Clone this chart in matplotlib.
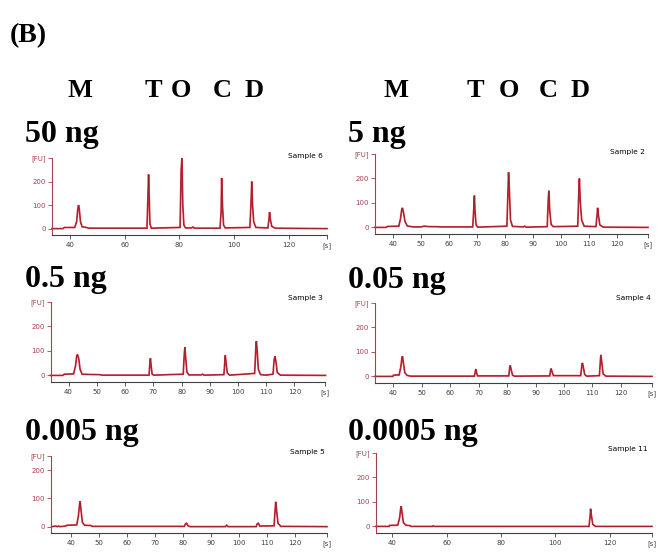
import matplotlib.pyplot as plt

# electropherogram traces: migration time [s] and fluorescence [FU]
t_50ng = [33.5, 37.5, 38, 41.8, 42.5, 42.9, 43.2, 43.5, 43.9, 44.5, 46, 47,
          68.2, 68.6, 68.8, 69.0, 69.3, 69.8, 80.3, 80.7, 81.0, 81.3, 81.7, 82.3,
          84.5, 85, 85.5, 94.9, 95.3, 95.5, 95.8, 96.2, 96.8, 105.8, 106.2, 106.5,
          106.8, 107.2, 108, 112.4, 112.8, 113.0, 113.3, 113.8, 115, 134]
fu_50ng = [0, 0, 5, 5, 30, 80, 100, 80, 30, 8, 5, 2,
           2, 150, 230, 140, 20, 2, 5, 250, 300, 100, 15, 3,
           3, 7, 2, 2, 70, 215, 100, 15, 3, 5, 100, 200,
           100, 30, 5, 3, 40, 70, 40, 10, 2, 0]

t_5ng = [33.5, 37.5, 38, 42, 42.6, 43.0, 43.3, 43.7, 44.2, 45, 47, 50, 51, 53, 55, 57,
         68.4, 68.8, 69.0, 69.2, 69.6, 70.2, 80.6, 81.0, 81.2, 81.5, 81.9, 82.6,
         86.5, 87, 87.5, 95.0, 95.4, 95.6, 95.9, 96.4, 97.2, 105.9, 106.3, 106.5,
         106.8, 107.3, 108.2, 112.4, 112.8, 113.0, 113.3, 113.8, 115, 131]
fu_5ng = [0, 0, 4, 5, 35, 70, 80, 60, 25, 6, 2, 2, 5, 3, 3, 2,
          2, 80, 130, 70, 10, 1, 5, 150, 225, 150, 30, 4,
          2, 5, 1, 3, 120, 150, 70, 12, 3, 5, 150, 200,
          110, 30, 5, 3, 50, 80, 50, 10, 1, 0]

t_05ng = [33.5, 38, 38.5, 41.8, 42.5, 42.9, 43.2, 43.6, 44.1, 44.8, 47, 51, 52,
          68.5, 68.8, 69.0, 69.2, 69.6, 70.2, 80.6, 81.0, 81.2, 81.5, 81.9, 82.6,
          87, 87.5, 88, 95.0, 95.3, 95.5, 95.8, 96.2, 97, 105.9, 106.3, 106.5,
          106.8, 107.2, 108, 110, 112.4, 112.8, 113.1, 113.4, 113.9, 115, 131]
fu_05ng = [0, 0, 5, 6, 40, 80, 85, 70, 25, 5, 4, 3, 1,
           1, 50, 70, 45, 5, 1, 5, 90, 115, 70, 15, 2,
           2, 5, 1, 3, 50, 82, 50, 10, 1, 8, 110, 140,
           100, 25, 3, 1, 5, 65, 78, 60, 12, 1, 0]

t_005ng = [33.5, 39.8, 40, 42.0, 42.6, 43.0, 43.2, 43.5, 44.0, 44.8, 46,
           68.5, 68.8, 69.0, 69.2, 69.6, 80.6, 80.9, 81.1, 81.4, 81.9, 82.6,
           95.0, 95.3, 95.5, 95.8, 96.3, 105.9, 106.3, 106.5, 106.8, 107.3, 108,
           112.5, 112.8, 113.0, 113.3, 113.8, 114.8, 131]
fu_005ng = [0, 0, 5, 6, 40, 78, 82, 55, 15, 4, 1,
            1, 20, 30, 18, 2, 2, 35, 45, 30, 5, 1,
            2, 25, 32, 20, 3, 3, 45, 55, 40, 8, 1,
            3, 60, 88, 60, 10, 1, 0]

t_0005ng = [33, 34.5, 35, 35.5, 36, 38, 38.5, 42, 42.6, 43.0, 43.2, 43.5, 44.0, 44.8,
            47, 47.5, 80.4, 80.8, 81.2, 81.7, 82.4, 95, 95.5, 96, 106, 106.4, 106.8,
            107.3, 112.4, 112.8, 113.0, 113.3, 113.8, 114.8, 131.3]
fu_0005ng = [0, 2, 0, 2, 0, 2, 5, 6, 40, 80, 90, 60, 15, 5,
             4, 1, 1, 10, 12, 3, 0, 0, 5, 0, 0, 10, 12,
             2, 3, 60, 88, 60, 12, 1, 0]

t_00005ng = [34, 38.8, 39, 42, 42.7, 43.1, 43.3, 43.6, 44.1, 45, 46.5, 47,
             54.8, 55, 55.5, 112.4, 112.8, 113.0, 113.3, 113.8, 114.8, 135.6]
fu_00005ng = [0, 0, 4, 5, 35, 75, 82, 55, 15, 5, 3, 0,
              0, 2, 0, 0, 40, 72, 45, 8, 0, 0]

amounts = ["50 ng", "5 ng", "0.5 ng", "0.05 ng", "0.005 ng", "0.0005 ng"]
samples = ["Sample 6", "Sample 2", "Sample 3", "Sample 4", "Sample 5", "Sample 11"]
traces = [(t_50ng, fu_50ng), (t_5ng, fu_5ng), (t_05ng, fu_05ng),
          (t_005ng, fu_005ng), (t_0005ng, fu_0005ng), (t_00005ng, fu_00005ng)]
x_ranges = [(33.5, 134), (33.5, 131), (33.8, 130.8), (33.5, 131), (32.8, 131.3), (34, 135.6)]
x_steps = [20, 10, 10, 10, 10, 20]
fu_top = [300, 300, 300, 300, 250, 300]
fu_ticks = [0, 100, 200]
lane_letters = ["M", "T", "O", "C", "D"]

W, H = 665, 556
RED = "#d42a3a"
AXRED = "#a8404c"
DARK = "#404040"

fig = plt.figure(figsize=(W / 100, H / 100), dpi=100)


def box(x0, y0, x1, y1):
    return [x0 / W, 1 - y1 / H, (x1 - x0) / W, (y1 - y0) / H]


# axes boxes in pixels: left, top, right, bottom
boxes = [(52, 158, 327, 235), (375, 154, 648, 234),
         (51, 302, 325, 382), (375, 303, 652, 383),
         (51, 456, 327, 533), (376, 453, 652, 533)]
title_pos = [(25, 142), (348, 142), (25, 287), (348, 288), (25, 440), (348, 440)]
sample_pos = [(323, 156), (645, 152), (323, 298), (651, 298), (325, 452), (648, 449)]

for i in range(6):
    ax = fig.add_axes(box(*boxes[i]))
    t, fu = traces[i]
    ax.plot(t, fu, color=RED, lw=1.25, clip_on=False, solid_joinstyle="miter")
    ax.plot(t, fu, color="#5b1a1a", lw=0.5, alpha=0.55, clip_on=False)

    lo, hi = x_ranges[i]
    ax.set_xlim(lo, hi)
    ax.set_ylim(-0.09 * fu_top[i], fu_top[i])

    start = (int(lo) // x_steps[i] + 1) * x_steps[i]
    xt = list(range(start, int(hi) - 3, x_steps[i]))
    ax.set_xticks(xt + [hi])
    ax.set_xticklabels([str(v) for v in xt] + ["[s]"])
    ax.set_yticks(fu_ticks + [fu_top[i]])
    ax.set_yticklabels([str(v) for v in fu_ticks] + ["[FU]"])

    for s in ["top", "right"]:
        ax.spines[s].set_visible(False)
    ax.spines["left"].set_color(AXRED)
    ax.spines["bottom"].set_color(DARK)
    ax.spines["left"].set_linewidth(0.8)
    ax.spines["bottom"].set_linewidth(0.8)
    ax.tick_params(axis="y", colors=AXRED, labelsize=5, length=3, width=0.6, pad=1.5)
    ax.tick_params(axis="x", colors=DARK, labelsize=5, length=3, width=0.6, pad=2)
    ax.set_facecolor("none")

    tx, ty = title_pos[i]
    fig.text(tx / W, 1 - ty / H, amounts[i], family="Liberation Serif",
             weight="bold", fontsize=23, va="baseline", ha="left")
    sx, sy = sample_pos[i]
    fig.text(sx / W, 1 - sy / H, samples[i], fontsize=5.3, ha="right", va="center")

fig.text(10 / W, 1 - 42.5 / H, "(B)", family="Liberation Serif", weight="bold",
         fontsize=20, va="baseline", ha="left")

letter_x = [[68, 145, 170.5, 213, 245], [383.6, 466.8, 498.7, 539, 571]]
for row in letter_x:
    for lx, letter in zip(row, lane_letters):
        fig.text(lx / W, 1 - 97 / H, letter, family="Liberation Serif", weight="bold",
                 fontsize=19, va="baseline", ha="left")

fig.savefig("out.png", dpi=100)
